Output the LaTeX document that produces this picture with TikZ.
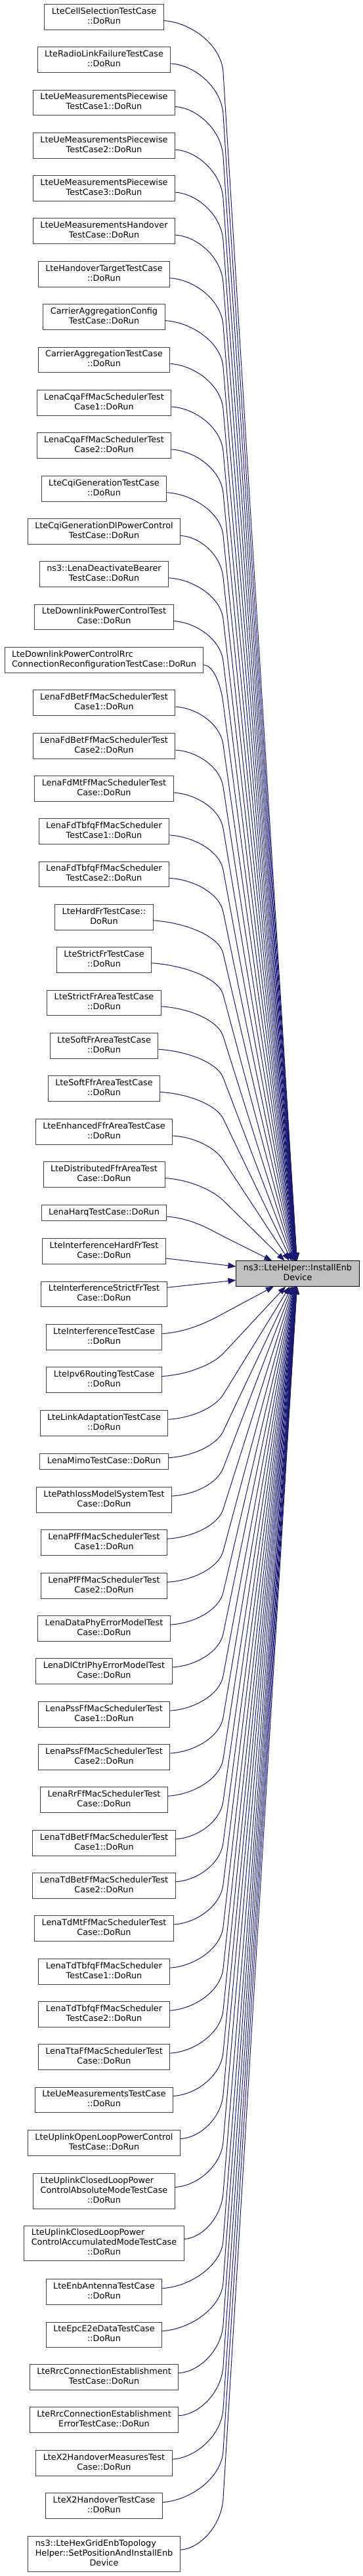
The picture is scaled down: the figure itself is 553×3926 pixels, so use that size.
\documentclass[tikz,border=0pt]{standalone}
\usepackage{fontspec}
\setmainfont{DejaVu Sans}
\usetikzlibrary{arrows.meta,calc}
\definecolor{edgeblue}{HTML}{191970}
\definecolor{boxline}{HTML}{404040}
\definecolor{hilite}{HTML}{BFBFBF}

\begin{document}
\begin{tikzpicture}[x=1pt,y=-1pt,
    fnbox/.style={draw=boxline, fill=white, line width=1pt, align=center,
      inner xsep=11pt, inner ysep=4.5pt, font=\fontsize{12.8}{15}\selectfont,
      execute at begin node=\strut, execute at end node=\strut},
    callline/.style={->, >={Triangle[length=12pt,width=9pt]}, draw=edgeblue, line width=1pt}]
  \def \cx {158.5} % column of the callers
  \def \bx {340}   % where the calls turn towards the callee
  \def \ty {1941}

  \useasboundingbox (0,0) rectangle (553,3926);

  \node[fnbox, fill=hilite, draw=black] (T) at (453.5,\ty) {ns3::LteHelper::InstallEnb\\Device};

  \foreach \i/\cy/\txt in {
    1/26/LteCellSelectionTestCase\\::DoRun,
    2/91/LteRadioLinkFailureTestCase\\::DoRun,
    3/156.5/LteUeMeasurementsPiecewise\\TestCase1::DoRun,
    4/222/LteUeMeasurementsPiecewise\\TestCase2::DoRun,
    5/287/LteUeMeasurementsPiecewise\\TestCase3::DoRun,
    6/352/LteUeMeasurementsHandover\\TestCase::DoRun,
    7/418/LteHandoverTargetTestCase\\::DoRun,
    8/483/CarrierAggregationConfig\\TestCase::DoRun,
    9/548.5/CarrierAggregationTestCase\\::DoRun,
    10/614/LenaCqaFfMacSchedulerTest\\Case1::DoRun,
    11/679/LenaCqaFfMacSchedulerTest\\Case2::DoRun,
    12/745/LteCqiGenerationTestCase\\::DoRun,
    13/810/LteCqiGenerationDlPowerControl\\TestCase::DoRun,
    14/875/ns3::LenaDeactivateBearer\\TestCase::DoRun,
    15/940.5/LteDownlinkPowerControlTest\\Case::DoRun,
    16/1006/\rlap{LteDownlinkPowerControlRrc}\phantom{ConnectionReconfigurationTestCase::DoRun}\\ConnectionReconfigurationTestCase::DoRun,
    17/1071/LenaFdBetFfMacSchedulerTest\\Case1::DoRun,
    18/1137/LenaFdBetFfMacSchedulerTest\\Case2::DoRun,
    19/1202/LenaFdMtFfMacSchedulerTest\\Case::DoRun,
    20/1267/LenaFdTbfqFfMacScheduler\\TestCase1::DoRun,
    21/1332.5/LenaFdTbfqFfMacScheduler\\TestCase2::DoRun,
    22/1398/LteHardFrTestCase::\\DoRun,
    23/1463/LteStrictFrTestCase\\::DoRun,
    24/1528.5/LteStrictFrAreaTestCase\\::DoRun,
    25/1594/LteSoftFrAreaTestCase\\::DoRun,
    26/1659/LteSoftFfrAreaTestCase\\::DoRun,
    27/1725/LteEnhancedFfrAreaTestCase\\::DoRun,
    28/1790/LteDistributedFfrAreaTest\\Case::DoRun,
    29/1848.5/LenaHarqTestCase::DoRun,
    30/1907/LteInterferenceHardFrTest\\Case::DoRun,
    31/1972.5/LteInterferenceStrictFrTest\\Case::DoRun,
    32/2038/LteInterferenceTestCase\\::DoRun,
    33/2103/LteIpv6RoutingTestCase\\::DoRun,
    34/2169/LteLinkAdaptationTestCase\\::DoRun,
    35/2227.5/LenaMimoTestCase::DoRun,
    36/2286/LtePathlossModelSystemTest\\Case::DoRun,
    37/2351/LenaPfFfMacSchedulerTest\\Case1::DoRun,
    38/2417/LenaPfFfMacSchedulerTest\\Case2::DoRun,
    39/2482/LenaDataPhyErrorModelTest\\Case::DoRun,
    40/2547/LenaDlCtrlPhyErrorModelTest\\Case::DoRun,
    41/2613/LenaPssFfMacSchedulerTest\\Case1::DoRun,
    42/2678/LenaPssFfMacSchedulerTest\\Case2::DoRun,
    43/2743/LenaRrFfMacSchedulerTest\\Case::DoRun,
    44/2809/LenaTdBetFfMacSchedulerTest\\Case1::DoRun,
    45/2874/LenaTdBetFfMacSchedulerTest\\Case2::DoRun,
    46/2939/LenaTdMtFfMacSchedulerTest\\Case::DoRun,
    47/3005/LenaTdTbfqFfMacScheduler\\TestCase1::DoRun,
    48/3070/LenaTdTbfqFfMacScheduler\\TestCase2::DoRun,
    49/3135/LenaTtaFfMacSchedulerTest\\Case::DoRun,
    50/3200.5/LteUeMeasurementsTestCase\\::DoRun,
    51/3266/LteUplinkOpenLoopPowerControl\\TestCase::DoRun,
    52/3339.5/\rlap{LteUplinkClosedLoopPower}\phantom{ControlAbsoluteModeTestCase}\\ControlAbsoluteModeTestCase\\::DoRun,
    53/3419/\rlap{LteUplinkClosedLoopPower}\phantom{ControlAccumulatedModeTestCase}\\ControlAccumulatedModeTestCase\\::DoRun,
    54/3493/LteEnbAntennaTestCase\\::DoRun,
    55/3558/LteEpcE2eDataTestCase\\::DoRun,
    56/3623/LteRrcConnectionEstablishment\\TestCase::DoRun,
    57/3688/LteRrcConnectionEstablishment\\ErrorTestCase::DoRun,
    58/3754/LteX2HandoverMeasuresTest\\Case::DoRun,
    59/3819/LteX2HandoverTestCase\\::DoRun,
    60/3892.5/\rlap{ns3::LteHexGridEnbTopology}\phantom{Helper::SetPositionAndInstallEnb}\\Helper::SetPositionAndInstallEnb\\Device}
  {
    \node[fnbox] (n\i) at (\cx,\cy) {\txt};
    \pgfmathsetmacro\dist{abs(\ty-\cy)}
    \pgfmathsetmacro\sgn{sign(\ty-\cy)}
    \pgfmathsetmacro\dd{\sgn*(22+45*sqrt(\dist/1000))}
    \pgfmathsetmacro\bk{-0.5*abs(\dd)}
    \ifdim\dist pt<50pt
      \draw[callline] (n\i) -- (T);
    \else
      \coordinate (b\i) at (\bx,\cy+\dd);
      \draw[callline] (n\i) .. controls ($(n\i.east)!.45!(b\i |- n\i.east)+(0,\sgn*8)$)
        and ($(b\i)!\bk pt!(T)$) .. (b\i) -- (T);
    \fi
  }
\end{tikzpicture}
\end{document}
